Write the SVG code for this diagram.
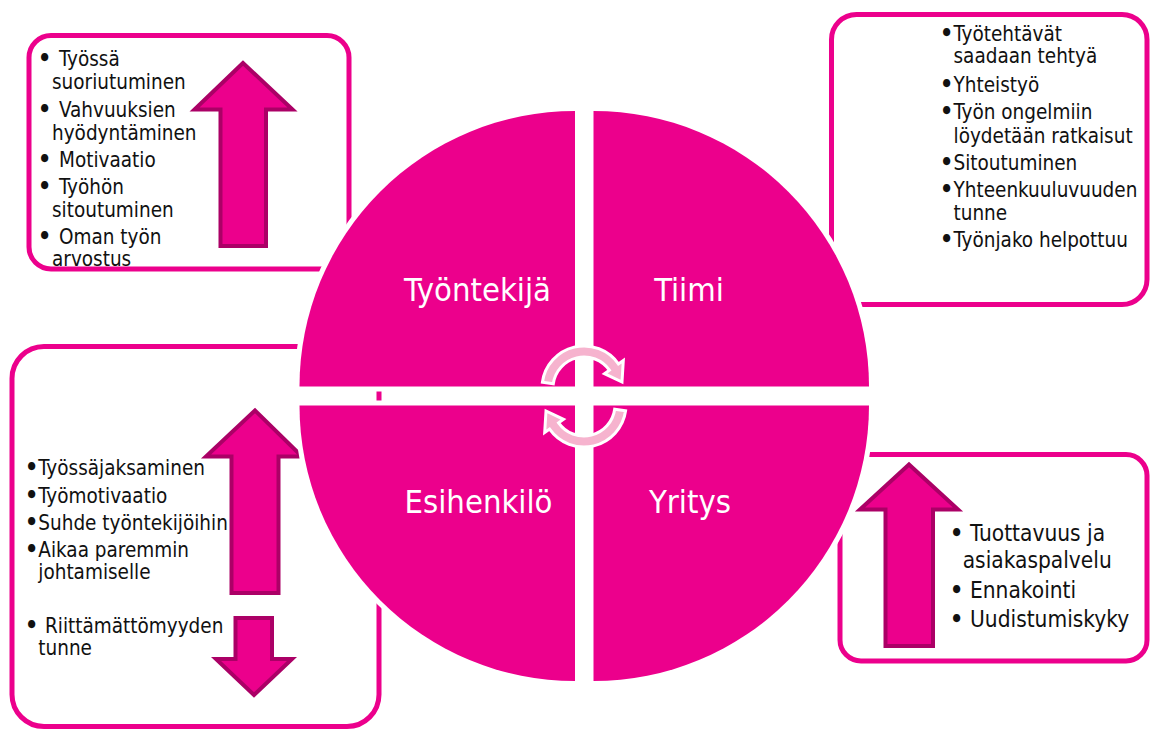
<svg xmlns="http://www.w3.org/2000/svg" width="1150" height="729" viewBox="0 0 1150 729">
  <style>
    .box { fill: none; stroke: #EC008C; stroke-width: 5; }
    .t { font-family: "DejaVu Sans Condensed", "DejaVu Sans", sans-serif; font-stretch: condensed; font-size: 20.5px; fill: #111; }
    .t4 { font-size: 22.5px; }
    .b { font-size: 23px; font-weight: bold; }
    .up { fill: #EC008C; stroke: #AB0066; stroke-width: 4; stroke-linejoin: miter; }
    .q { fill: #EC008C; stroke: #FFFFFF; stroke-width: 10; paint-order: stroke; }
    .ql { font-family: "DejaVu Sans Condensed", "DejaVu Sans", sans-serif; font-stretch: condensed; font-size: 32.5px; fill: #FFFFFF; text-anchor: middle; }
    .cyc { fill: #F6B3CE; stroke: #FFFFFF; stroke-width: 3; stroke-linejoin: miter; }
  </style>
  <rect width="1150" height="729" fill="#FFFFFF"/>

  <g id="box-tyontekija">
    <text class="t" x="38" y="65.5"><tspan class="b">•</tspan><tspan x="59">Työssä</tspan></text>
    <text class="t" x="52" y="89">suoriutuminen</text>
    <text class="t" x="38" y="116.5"><tspan class="b">•</tspan><tspan x="59">Vahvuuksien</tspan></text>
    <text class="t" x="52" y="139.5">hyödyntäminen</text>
    <text class="t" x="38" y="166.5"><tspan class="b">•</tspan><tspan x="59">Motivaatio</tspan></text>
    <text class="t" x="38" y="193.5"><tspan class="b">•</tspan><tspan x="59">Työhön</tspan></text>
    <text class="t" x="52" y="216.5">sitoutuminen</text>
    <text class="t" x="38" y="243.5"><tspan class="b">•</tspan><tspan x="59">Oman työn</tspan></text>
    <text class="t" x="52" y="266">arvostus</text>
    <polygon class="up" points="243,63 194.5,109.5 220.5,109.5 220.5,246 266,246 266,109.5 292.5,109.5"/>
    <rect class="box" x="29" y="35.5" width="320" height="233.5" rx="22"/>
  </g>

  <g id="box-tiimi">
    <text class="t" x="940" y="40.7"><tspan class="b">•</tspan><tspan x="953.5">Työtehtävät</tspan></text>
    <text class="t" x="953.5" y="63.3">saadaan tehtyä</text>
    <text class="t" x="940" y="91.7"><tspan class="b">•</tspan><tspan x="953.5">Yhteistyö</tspan></text>
    <text class="t" x="940" y="119.3"><tspan class="b">•</tspan><tspan x="953.5">Työn ongelmiin</tspan></text>
    <text class="t" x="953.5" y="142.7">löydetään ratkaisut</text>
    <text class="t" x="940" y="170"><tspan class="b">•</tspan><tspan x="953.5">Sitoutuminen</tspan></text>
    <text class="t" x="940" y="196.7"><tspan class="b">•</tspan><tspan x="953.5">Yhteenkuuluvuuden</tspan></text>
    <text class="t" x="953.5" y="220">tunne</text>
    <text class="t" x="940" y="246.7"><tspan class="b">•</tspan><tspan x="953.5">Työnjako helpottuu</tspan></text>
    <rect class="box" x="831.5" y="14.5" width="315.5" height="290" rx="25"/>
  </g>

  <g id="box-esihenkilo">
    <text class="t" x="25" y="475"><tspan class="b">•</tspan><tspan x="38.3">Työssäjaksaminen</tspan></text>
    <text class="t" x="25" y="502.7"><tspan class="b">•</tspan><tspan x="38.3">Työmotivaatio</tspan></text>
    <text class="t" x="25" y="530"><tspan class="b">•</tspan><tspan x="38.3">Suhde työntekijöihin</tspan></text>
    <text class="t" x="25" y="556.7"><tspan class="b">•</tspan><tspan x="38.3">Aikaa paremmin</tspan></text>
    <text class="t" x="38.3" y="579.3">johtamiselle</text>
    <text class="t" x="25" y="633.3"><tspan class="b">•</tspan><tspan x="45">Riittämättömyyden</tspan></text>
    <text class="t" x="38.3" y="655">tunne</text>
    <polygon class="up" points="255,410.5 206,456.5 231.5,456.5 231.5,593 278.5,593 278.5,456.5 302,456.5"/>
    <polygon class="up" points="235.5,618 272,618 272,659 292,659 254,695 216,659 235.5,659"/>
    <rect class="box" x="12" y="346.5" width="367" height="380" rx="32"/>
  </g>

  <g id="box-yritys">
    <text class="t t4" x="950" y="540.7"><tspan class="b">•</tspan><tspan x="970">Tuottavuus ja</tspan></text>
    <text class="t t4" x="962.7" y="567.7">asiakaspalvelu</text>
    <text class="t t4" x="950" y="598.3"><tspan class="b">•</tspan><tspan x="970">Ennakointi</tspan></text>
    <text class="t t4" x="950" y="627.3"><tspan class="b">•</tspan><tspan x="970">Uudistumiskyky</tspan></text>
    <polygon class="up" points="909,464.5 860,509.5 885.5,509.5 885.5,646 933,646 933,509.5 958,509.5"/>
    <rect class="box" x="840" y="454.5" width="307" height="206.5" rx="21"/>
  </g>

  <g id="quadrant-tyontekija">
    <path class="q" d="M575,386.5 L299.5,386.5 A275.5,275.5 0 0 1 575,111 Z"/>
    <text class="ql" x="477.5" y="301">Työntekijä</text>
  </g>
  <g id="quadrant-tiimi">
    <path class="q" d="M593.5,386.5 L593.5,111 A275.5,275.5 0 0 1 869,386.5 Z"/>
    <text class="ql" x="689" y="301">Tiimi</text>
  </g>
  <g id="quadrant-esihenkilo">
    <path class="q" d="M575,405.5 L575,681 A275.5,275.5 0 0 1 299.5,405.5 Z"/>
    <text class="ql" x="478.5" y="513">Esihenkilö</text>
  </g>
  <g id="quadrant-yritys">
    <path class="q" d="M593.5,405.5 L869,405.5 A275.5,275.5 0 0 1 593.5,681 Z"/>
    <text class="ql" x="690" y="513">Yritys</text>
  </g>

  <g id="connectors">
    <path class="cyc" d="M542.4,382.2 A42,42 0 0 1 618.4,363.9 L623.3,360.5 L622,382 L604.5,373.7 L609.4,370.2 A31,31 0 0 0 553.3,383.7 Z"/>
    <path class="cyc" transform="rotate(180 584 396.5)" d="M542.4,382.2 A42,42 0 0 1 618.4,363.9 L623.3,360.5 L622,382 L604.5,373.7 L609.4,370.2 A31,31 0 0 0 553.3,383.7 Z"/>
  </g>
</svg>
